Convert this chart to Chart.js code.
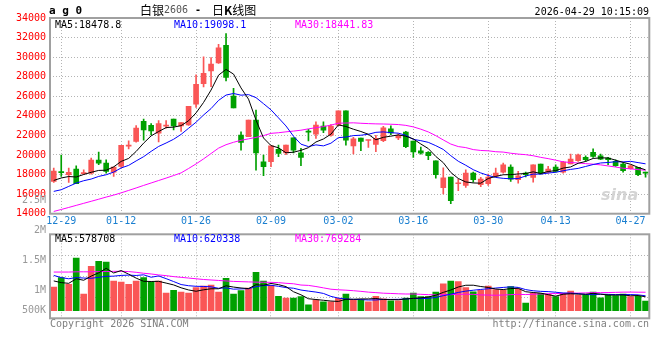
<!DOCTYPE html>
<html><head><meta charset="utf-8">
<script src="https://cdn.jsdelivr.net/npm/chart.js@4.4.1/dist/chart.umd.min.js"></script>
<style>
html,body{margin:0;padding:0;background:#fff;}
#wrap{position:relative;width:660px;height:360px;overflow:hidden;background:#fff;}
canvas{position:absolute;left:0;}
.t{position:absolute;white-space:nowrap;font-family:'DejaVu Sans Mono',monospace;font-size:10px;line-height:12px;}
.cjk{font-family:'Noto Sans CJK SC',sans-serif;font-size:12px;line-height:14px;}
</style></head><body>
<div id="wrap">
<canvas id="pc" width="660" height="230" style="top:0"></canvas>
<canvas id="vc" width="660" height="140" style="top:190px"></canvas>

<div class="t" style="left:49px;top:4px;font-size:11px;font-weight:bold;line-height:14px;color:#000">a g 0</div>
<div class="t cjk" style="left:140px;top:3px;color:#000">白银</div>
<div class="t" style="left:164px;top:4px;color:#555;font-size:10px">2606</div>
<div class="t" style="left:195px;top:4px;color:#000;font-weight:bold">-</div>
<div class="t cjk" style="left:212px;top:3px;color:#000">日<b>K</b>线图</div>
<div class="t" style="right:11px;top:6px;color:#000">2026-04-29 10:15:09</div>

<div class="t" style="left:55px;top:18.5px;color:#000">MA5:18478.8</div>
<div class="t" style="left:174px;top:18.5px;color:#0000ff">MA10:19098.1</div>
<div class="t" style="left:295px;top:18.5px;color:#ff00ff">MA30:18441.83</div>

<div class="t" style="left:55px;top:232.7px;color:#000">MA5:578708</div>
<div class="t" style="left:174px;top:232.7px;color:#0000ff">MA10:620338</div>
<div class="t" style="left:295px;top:232.7px;color:#ff00ff">MA30:769284</div>

<div class="t" style="left:601px;top:186px;font-family:'DejaVu Sans',sans-serif;font-size:16px;line-height:18px;font-weight:bold;font-style:italic;color:#d4d4d4">sina</div>

<div class="t" style="left:50px;top:318px;color:#808080">Copyright 2026 SINA.COM</div>
<div class="t" style="right:11px;top:318px;color:#808080">http://finance.sina.com.cn</div>
</div>
<script>
// ---------- data ----------
const DATES = ['12-26','12-29','12-30','12-31','01-05','01-06','01-07','01-08','01-09','01-12',
'01-13','01-14','01-15','01-16','01-19','01-20','01-21','01-22','01-23','01-26',
'01-27','01-28','01-29','01-30','02-02','02-03','02-04','02-05','02-06','02-09',
'02-10','02-11','02-12','02-13','02-24','02-25','02-26','02-27','03-02','03-03',
'03-04','03-05','03-06','03-09','03-10','03-11','03-12','03-13','03-16','03-17',
'03-18','03-19','03-20','03-23','03-24','03-25','03-26','03-27','03-30','03-31',
'04-01','04-02','04-03','04-07','04-08','04-09','04-10','04-13','04-14','04-15',
'04-16','04-17','04-20','04-21','04-22','04-23','04-24','04-27','04-28','04-29'];

const X_TICK_LABELS = ['12-29','01-12','01-26','02-09','03-02','03-16','03-30','04-13','04-27'];
const PRICE_TICKS = [14000,16000,18000,20000,22000,24000,26000,28000,30000,32000,34000];
const VOL_TICK_LABELS = ['2.5M','2M','1.5M','1M','500K'];

const OPEN = [17300,18250,17980,18560,18100,18150,19470,19170,18250,18830,
20900,21380,23450,23040,22230,22950,23660,22980,23080,25190,
27300,28590,29400,31210,26010,22030,21860,23560,19310,19310,
20570,20220,21760,20220,22380,22130,22950,22030,23050,24510,
20930,21720,21480,21070,21460,22680,21740,22350,21410,20430,
20260,19410,16650,17740,17060,16890,18150,16960,17060,17840,
18250,18760,17470,18150,17710,19070,18250,18760,18250,19100,
19410,19750,20260,19920,19680,19340,19070,18590,18730,18180];
const HIGH = [18650,20000,18650,18900,18480,19680,20290,19510,18760,21000,
21450,23010,23660,23210,23520,23520,23660,23320,24980,28180,
30020,29950,31320,32400,26800,22370,23560,24580,19990,20940,
21010,21010,21760,20670,22610,23390,23390,23120,24510,24510,
21800,21720,21530,22000,22930,22980,22160,22430,21410,20800,
20360,19410,18690,17740,17540,18490,18250,17710,18050,18660,
19170,19000,18320,18250,19000,19070,18830,19000,19340,20090,
20090,19920,20630,20090,19750,19510,19170,18990,18730,18250];
const LOW = [17200,17800,17200,17060,17980,18050,19000,18150,17800,18730,
20630,21310,21510,22060,21340,22740,22570,22400,23010,24850,
26960,26990,29350,27570,24820,20500,21860,18460,17880,18800,
19820,20020,20220,18900,21450,21690,22270,21930,23000,21010,
20100,20430,20770,20350,21370,22080,21570,20750,19750,20090,
19510,17640,16020,15020,16350,16690,17230,16750,16890,17770,
18150,17300,17130,17770,17230,18050,18150,18250,18150,19100,
19340,19340,19750,19510,19000,18830,18250,18550,17880,17740];
const CLOSE = [18350,18200,18220,17060,18200,19470,19170,18320,18760,21000,
21000,22740,22570,22470,23210,23010,22980,23320,24980,27230,
28350,29300,30940,27920,24820,21290,23560,20220,18800,20940,
20160,21010,20500,19760,22330,23050,22540,22950,24510,21520,
21650,21380,21520,21700,22780,22250,22010,20850,20310,20190,
19920,17980,17670,15330,17100,18150,17470,17540,17740,18150,
19000,17540,17880,17980,19000,18150,18560,18320,19270,19580,
20020,19510,19850,19580,19510,18900,18390,18900,17980,18150];

const MA5 = [17400,17650,17800,17750,18006,18230,18424,18444,18784,19344,
19650,20364,21214,21956,22398,22800,22848,22998,23500,24304,
25372,26636,28160,28748,28266,26854,25706,23562,21738,20962,
20736,20226,20282,20474,20752,21330,21636,22126,23076,22914,
22634,22402,22116,21554,21806,21926,22052,21918,21640,21122,
20656,19850,19214,18218,17600,17246,17144,17118,17600,17810,
17980,17994,18062,18110,18280,18110,18314,18402,18660,18776,
19150,19340,19646,19708,19694,19470,19246,19056,18736,18479];
const MA10 = [16280,16450,16790,17130,17370,17540,17810,17980,18250,18675,
18940,19394,19829,20370,20871,21225,21606,22106,22728,23351,
24086,24742,25579,26124,26285,26113,26171,25861,25243,24614,
23795,22966,21922,21106,20857,21033,20931,21204,21775,21833,
21982,22019,22121,22315,22360,22280,22227,22017,21597,21464,
21291,20951,20566,19929,19361,18951,18497,18166,17909,17705,
17613,17569,17590,17855,18045,18045,18154,18232,18385,18528,
18630,18827,19024,19184,19235,19310,19293,19351,19222,19098];
const MA30 = [14230,14430,14640,14850,15060,15270,15480,15700,15900,16130,
16380,16630,16890,17140,17390,17640,17900,18170,18620,19090,
19600,20150,20700,21050,21300,21500,21650,21800,21980,22213,
22273,22367,22443,22533,22671,22790,22902,23056,23248,23265,
23287,23242,23207,23181,23167,23142,23110,23028,22872,22637,
22356,21979,21537,21117,20860,20755,20552,20463,20428,20335,
20296,20180,20093,20034,19923,19760,19627,19473,19298,19233,
19179,19117,19061,18990,18881,18769,18648,18583,18505,18442];

const VOLUME = [980000,1380000,1100000,2190000,690000,1850000,2060000,2030000,1230000,1190000,
1100000,1230000,1380000,1180000,1230000,730000,850000,780000,730000,960000,
1030000,1070000,780000,1350000,690000,840000,940000,1600000,1230000,1060000,
600000,530000,530000,590000,240000,440000,370000,370000,510000,690000,
440000,440000,370000,600000,490000,410000,410000,530000,730000,590000,
590000,780000,1120000,1230000,1210000,960000,790000,850000,1030000,880000,
850000,1000000,900000,320000,720000,720000,680000,590000,720000,820000,
650000,650000,780000,540000,650000,630000,690000,590000,600000,400000];
const VMA5 = [1240000,1170000,1140000,1330000,1268000,1442000,1578000,1764000,1572000,1672000,
1522000,1356000,1226000,1216000,1224000,1150000,1074000,954000,864000,810000,
870000,914000,914000,1038000,984000,946000,920000,1084000,1060000,1134000,
1086000,1004000,790000,662000,498000,466000,434000,402000,386000,476000,
476000,490000,490000,508000,468000,462000,456000,488000,514000,534000,
570000,644000,762000,862000,986000,1060000,1062000,1008000,968000,902000,
880000,922000,932000,790000,758000,732000,668000,606000,686000,706000,
692000,686000,724000,688000,654000,650000,658000,620000,632000,578708];
const VMA10 = [1470000,1380000,1330000,1380000,1360000,1350000,1390000,1430000,1440000,1470000,
1482000,1467000,1495000,1394000,1448000,1336000,1215000,1090000,1040000,1017000,
1010000,994000,934000,951000,897000,908000,917000,999000,1049000,1059000,
1016000,962000,937000,861000,816000,776000,719000,596000,524000,487000,
471000,462000,446000,447000,472000,469000,473000,489000,511000,501000,
516000,550000,625000,688000,760000,815000,853000,885000,915000,944000,
970000,992000,970000,879000,830000,806000,795000,769000,738000,732000,
712000,677000,665000,687000,680000,671000,672000,672000,660000,620338];
const VMA30 = [1610000,1610000,1610000,1620000,1620000,1620000,1630000,1630000,1640000,1640000,
1630000,1600000,1560000,1530000,1490000,1460000,1420000,1390000,1360000,1330000,
1300000,1280000,1260000,1240000,1220000,1210000,1200000,1190000,1185000,1182000,
1169000,1141000,1122000,1069000,1054000,1007000,951000,895000,871000,855000,
833000,806000,773000,753000,729000,718000,704000,695000,695000,683000,
668000,659000,670000,666000,683000,687000,682000,657000,650000,644000,
653000,668000,681000,672000,688000,697000,707000,715000,722000,726000,
733000,740000,754000,752000,757000,764000,773000,775000,771000,769284];

// ---------- layout / style ----------
const MONO = "'DejaVu Sans Mono', monospace";
const RED = '#fa5656', GREEN = '#00a000';
const GRID = '#b4b4b4';
const VOL_MIN = -317000, VOL_MAX = 3183000;
const VOL_CANVAS_TOP = 190, VOL_AREA_TOP = 234.3, VOL_AREA_BOTTOM = 318.3;
const VOL_LABEL_Y = [200, 230.7, 260.7, 290.7, 310.7];

const colors = CLOSE.map((c, i) => c >= OPEN[i] ? RED : GREEN);
const shown = new Set(X_TICK_LABELS);
const xGridColor = ctx => shown.has(DATES[ctx.index]) ? GRID : 'rgba(0,0,0,0)';

const framePlugin = {
  id: 'frame',
  afterDatasetsDraw(chart) {
    const a = chart.chartArea, ctx = chart.ctx;
    ctx.save();
    ctx.strokeStyle = '#a0a0a0';
    ctx.lineWidth = 2;
    ctx.strokeRect(a.left, a.top, a.right - a.left, a.bottom - a.top);
    ctx.restore();
  }
};

const lineDs = (data, color) => ({type: 'line', data, borderColor: color, borderWidth: 1,
  pointRadius: 0, pointHoverRadius: 0, tension: 0, fill: false, order: 0});

// ---------- price chart ----------
new Chart(document.getElementById('pc'), {
  type: 'bar',
  data: {
    labels: DATES,
    datasets: [
      lineDs(MA5, '#000000'),
      lineDs(MA10, '#0000ff'),
      lineDs(MA30, '#ff00ff'),
      {type: 'bar', data: OPEN.map((o, i) => [o, CLOSE[i]]), backgroundColor: colors,
       barThickness: 5, grouped: false, minBarLength: 1, order: 1},
      {type: 'bar', data: LOW.map((l, i) => [l, HIGH[i]]), backgroundColor: colors,
       barThickness: 1, grouped: false, order: 2}
    ]
  },
  options: {
    responsive: false, animation: false, devicePixelRatio: 1,
    layout: {padding: {top: 18, right: 10.7, bottom: 0, left: 0}},
    plugins: {legend: {display: false}, tooltip: {enabled: false}},
    scales: {
      x: {
        type: 'category', offset: true,
        grid: {offset: false, color: xGridColor, lineWidth: 1, drawTicks: false, borderDash: [1, 2]},
        border: {display: false, dash: [1, 2]},
        ticks: {autoSkip: false, maxRotation: 0, minRotation: 0, padding: 2, color: '#1a7fd0',
          font: {family: MONO, size: 10},
          callback: (v, i) => shown.has(DATES[i]) ? DATES[i] : ''},
        afterFit: s => { s.height = 16.3; }
      },
      y: {
        min: PRICE_TICKS[0], max: PRICE_TICKS[PRICE_TICKS.length - 1],
        afterBuildTicks: s => { s.ticks = PRICE_TICKS.map(v => ({value: v})); },
        ticks: {autoSkip: false, padding: 4, color: '#ff0000', font: {family: MONO, size: 10},
          callback: v => String(v)},
        grid: {color: GRID, drawTicks: false, borderDash: [1, 2]},
        border: {display: false, dash: [1, 2]},
        afterFit: s => { s.width = 50; }
      }
    }
  },
  plugins: [framePlugin]
});

// ---------- volume chart ----------
const volH = VOL_AREA_BOTTOM - VOL_AREA_TOP;
new Chart(document.getElementById('vc'), {
  type: 'bar',
  data: {
    labels: DATES,
    datasets: [
      lineDs(VMA5, '#000000'),
      lineDs(VMA10, '#0000ff'),
      lineDs(VMA30, '#ff00ff'),
      {type: 'bar', data: VOLUME, backgroundColor: colors, barThickness: 6, grouped: false, order: 1}
    ]
  },
  options: {
    responsive: false, animation: false, devicePixelRatio: 1,
    layout: {padding: {top: VOL_AREA_TOP - VOL_CANVAS_TOP, right: 10.7,
      bottom: 140 - (VOL_AREA_BOTTOM - VOL_CANVAS_TOP), left: 0}},
    plugins: {legend: {display: false}, tooltip: {enabled: false}},
    scales: {
      x: {
        type: 'category', offset: true,
        grid: {offset: false, color: xGridColor, lineWidth: 1, drawTicks: false, borderDash: [1, 2]},
        border: {display: false, dash: [1, 2]},
        ticks: {display: false, autoSkip: false},
        afterFit: s => { s.height = 0; }
      },
      y: {display: false, min: VOL_MIN, max: VOL_MAX},
      yl: {
        position: 'left', min: 0, max: volH,
        afterBuildTicks: s => { s.ticks = VOL_LABEL_Y.map(y => ({value: VOL_AREA_BOTTOM - y})); },
        ticks: {autoSkip: false, padding: 4, color: '#999999', font: {family: MONO, size: 10},
          callback: (v, i) => VOL_TICK_LABELS[i]},
        grid: {display: false, drawTicks: false},
        border: {display: false},
        afterFit: s => { s.width = 50; }
      },
      yg: {
        position: 'left', min: 0, max: 4,
        ticks: {display: false, stepSize: 1},
        grid: {color: GRID, drawTicks: false, borderDash: [1, 2]},
        border: {display: false, dash: [1, 2]},
        afterFit: s => { s.width = 0; }
      }
    }
  },
  plugins: [framePlugin]
});
</script>
</body></html>
